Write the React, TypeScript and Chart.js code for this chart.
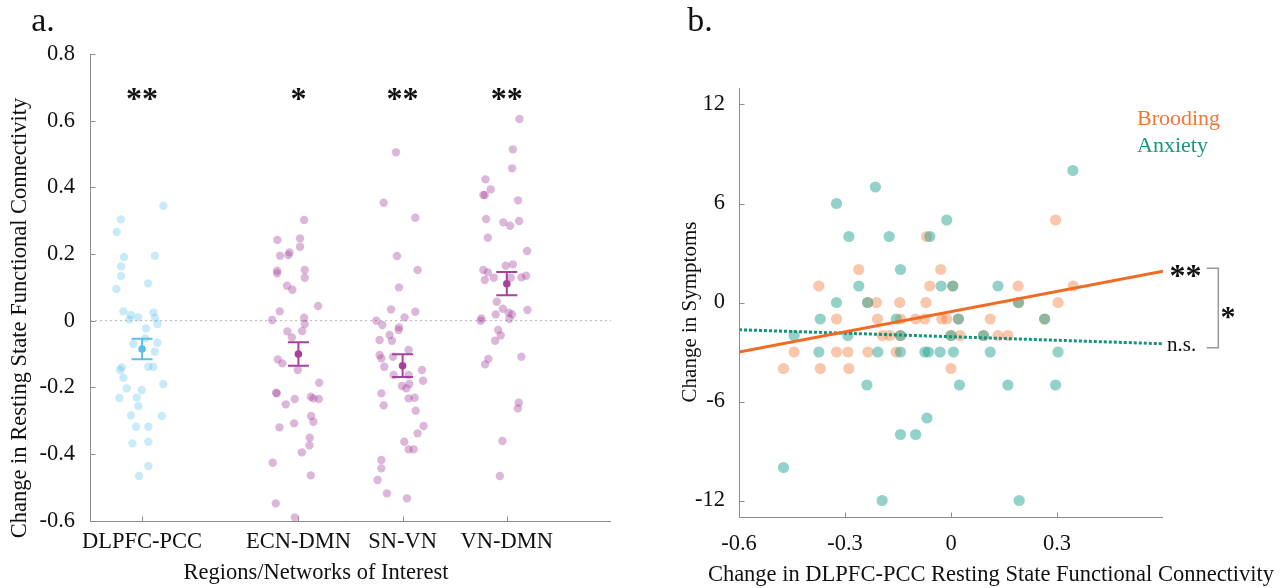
import React, { useEffect, useRef } from "react";
import { Chart, registerables } from "chart.js";

Chart.register(...registerables);

const FONT = '"Liberation Serif", "Times New Roman", serif';
const AXIS_COLOR = "#8c8c8c";
const TEXT_COLOR = "#111111";

// ---------------- Panel a data ----------------
const categories = ["DLPFC-PCC", "ECN-DMN", "SN-VN", "VN-DMN"];
const categoryPos = [1, 2.5, 3.5, 4.5];
const significance = ["**", "*", "**", "**"];
const aYTicks = [0.8, 0.6, 0.4, 0.2, 0, -0.2, -0.4, -0.6];
const aYLabels = ["0.8", "0.6", "0.4", "0.2", "0", "-0.2", "-0.4", "-0.6"];
const groupMeans = [-0.085, -0.1, -0.135, 0.111];
const groupSem = [0.031, 0.035, 0.034, 0.035];

const dlpfcPoints: [number, number][] = [
  [1.204, 0.345], [0.796, 0.304], [0.757, 0.266], [0.827, 0.191], [1.122, 0.195],
  [0.798, 0.163], [0.798, 0.134], [1.058, 0.112], [0.753, 0.095], [0.821, 0.028],
  [0.892, 0.017], [0.962, 0.01], [0.878, 0.004], [1.108, 0.025], [1.125, 0.009],
  [1.147, -0.01], [1.038, -0.023], [1.029, -0.053], [0.917, -0.07], [1.147, -0.066],
  [1.122, -0.093], [0.805, -0.14], [0.789, -0.148], [1.06, -0.138], [1.108, -0.138],
  [0.821, -0.171], [1.204, -0.19], [0.853, -0.203], [0.997, -0.208], [0.949, -0.23],
  [0.782, -0.232], [0.964, -0.256], [0.894, -0.284], [1.189, -0.286], [0.942, -0.318],
  [1.06, -0.318], [0.907, -0.368], [1.06, -0.363], [1.06, -0.436], [0.971, -0.466],
];

const ecnPoints: [number, number][] = [
  [2.555, 0.302], [2.298, 0.242], [2.516, 0.247], [2.516, 0.222], [2.324, 0.195],
  [2.414, 0.205], [2.404, 0.197], [2.296, 0.15], [2.296, 0.142], [2.561, 0.152],
  [2.561, 0.129], [2.392, 0.105], [2.442, 0.093], [2.689, 0.044], [2.321, 0.028],
  [2.248, 0.002], [2.555, 0.009], [2.561, -0.01], [2.536, -0.031], [2.394, -0.032],
  [2.437, -0.05], [2.302, -0.116], [2.346, -0.128], [2.494, -0.148], [2.699, -0.186],
  [2.286, -0.216], [2.293, -0.218], [2.619, -0.228], [2.644, -0.233], [2.696, -0.235],
  [2.465, -0.235], [2.379, -0.251], [2.622, -0.286], [2.644, -0.303], [2.459, -0.308],
  [2.318, -0.32], [2.609, -0.351], [2.606, -0.374], [2.533, -0.395], [2.254, -0.426],
  [2.619, -0.464], [2.283, -0.548], [2.465, -0.59],
];

const snPoints: [number, number][] = [
  [3.437, 0.505], [3.318, 0.354], [3.622, 0.309], [3.446, 0.194], [3.644, 0.152],
  [3.465, 0.1], [3.389, 0.034], [3.622, 0.027], [3.519, 0.01], [3.248, 0.0],
  [3.305, -0.013], [3.465, -0.02], [3.462, -0.028], [3.375, -0.043], [3.279, -0.058],
  [3.398, -0.06], [3.558, -0.088], [3.279, -0.103], [3.296, -0.113], [3.408, -0.108],
  [3.324, -0.138], [3.686, -0.148], [3.414, -0.163], [3.558, -0.163], [3.696, -0.18],
  [3.564, -0.19], [3.494, -0.196], [3.536, -0.203], [3.296, -0.218], [3.615, -0.231],
  [3.558, -0.233], [3.318, -0.254], [3.625, -0.27], [3.702, -0.316], [3.644, -0.338],
  [3.516, -0.363], [3.558, -0.386], [3.606, -0.386], [3.296, -0.418], [3.296, -0.443],
  [3.26, -0.478], [3.35, -0.518], [3.542, -0.533],
];

const vnPoints: [number, number][] = [
  [4.621, 0.605], [4.558, 0.514], [4.551, 0.457], [4.295, 0.424], [4.346, 0.394],
  [4.275, 0.377], [4.289, 0.377], [4.608, 0.361], [4.301, 0.305], [4.467, 0.295],
  [4.532, 0.285], [4.618, 0.299], [4.318, 0.249], [4.695, 0.209], [4.275, 0.152],
  [4.318, 0.145], [4.289, 0.122], [4.375, 0.129], [4.49, 0.165], [4.558, 0.169],
  [4.538, 0.129], [4.64, 0.13], [4.685, 0.135], [4.404, 0.057], [4.462, 0.036],
  [4.698, 0.032], [4.394, 0.019], [4.519, 0.024], [4.551, 0.019], [4.525, 0.006],
  [4.256, 0.007], [4.25, 0.0], [4.417, -0.028], [4.442, -0.044], [4.388, -0.06],
  [4.323, -0.115], [4.292, -0.131], [4.64, -0.108], [4.615, -0.246], [4.606, -0.263],
  [4.458, -0.361], [4.433, -0.466],
];

// ---------------- Panel b data ----------------
const bXTicks = [-0.6, -0.3, 0, 0.3];
const bXLabels = ["-0.6", "-0.3", "0", "0.3"];
const bYTicks = [12, 6, 0, -6, -12];
const bYLabels = ["12", "6", "0", "-6", "-12"];

const broodingPoints: [number, number][] = [
  [-0.069, 4], [-0.261, 2], [-0.029, 2], [-0.374, 1], [-0.06, 1], [0.005, 1],
  [0.19, 1], [0.346, 1], [0.296, 5], [-0.236, 0], [-0.211, 0], [-0.145, 0],
  [-0.071, 0], [0.191, 0], [0.303, 0], [-0.324, -1], [-0.208, -1], [-0.143, -1],
  [-0.1, -1], [-0.074, -1], [-0.026, -1], [-0.012, -1], [0.021, -1], [0.111, -1],
  [0.265, -1], [-0.194, -2], [-0.173, -2], [-0.143, -2], [0, -2], [0.026, -2],
  [0.092, -2], [0.133, -2], [0.161, -2], [-0.444, -3], [-0.324, -3], [-0.292, -3],
  [-0.235, -3], [-0.155, -3], [-0.474, -4], [-0.37, -4], [-0.289, -4], [0, -4],
];

const anxietyPoints: [number, number][] = [
  [-0.214, 7], [-0.324, 6], [-0.289, 4], [-0.175, 4], [-0.06, 4], [-0.012, 5],
  [0.345, 8], [-0.143, 2], [-0.261, 1], [-0.028, 1], [0.005, 1], [0.133, 1],
  [-0.324, 0], [-0.236, 0], [0.191, 0], [-0.37, -1], [-0.155, -1], [0.021, -1],
  [0.265, -1], [-0.444, -2], [-0.292, -2], [-0.143, -2], [0, -2], [0.092, -2],
  [-0.374, -3], [-0.207, -3], [-0.143, -3], [-0.074, -3], [-0.064, -3], [-0.031, -3],
  [0.007, -3], [0.111, -3], [0.303, -3], [-0.238, -5], [0.024, -5], [0.161, -5],
  [0.296, -5], [-0.068, -7], [-0.143, -8], [-0.1, -8], [-0.474, -10], [-0.195, -12],
  [0.193, -12],
];

const fitX = [-0.6, 0.6];
const broodingFit = [-3.0, 1.9];
const anxietyFit = [-1.65, -2.5];

// ---------------- helpers ----------------
const toXY = (pts: [number, number][]) => pts.map(([x, y]) => ({ x, y }));
const font = (size: number, weight = "normal") => `${weight} ${size}px ${FONT}`;

function drawAxesAndTicks(chart: any) {
  const { ctx, chartArea, scales } = chart;
  ctx.save();
  ctx.strokeStyle = AXIS_COLOR;
  ctx.lineWidth = 1;
  const L = Math.round(chartArea.left) + 0.5;
  const B = Math.round(chartArea.bottom) + 0.5;
  ctx.beginPath();
  ctx.moveTo(L, chartArea.top);
  ctx.lineTo(L, B);
  ctx.lineTo(chartArea.right, B);
  ctx.stroke();
  scales.x.ticks.forEach((t: any) => {
    const px = Math.round(scales.x.getPixelForValue(t.value)) + 0.5;
    ctx.beginPath();
    ctx.moveTo(px, B);
    ctx.lineTo(px, B - 5);
    ctx.stroke();
  });
  scales.y.ticks.forEach((t: any) => {
    const py = Math.round(scales.y.getPixelForValue(t.value)) + 0.5;
    ctx.beginPath();
    ctx.moveTo(L, py);
    ctx.lineTo(L + 5, py);
    ctx.stroke();
  });
  ctx.restore();
}

function text(ctx: any, s: string, x: number, y: number, f: string, color = TEXT_COLOR, align = "center", baseline = "middle", rot = 0) {
  ctx.save();
  ctx.font = f;
  ctx.fillStyle = color;
  ctx.textAlign = align;
  ctx.textBaseline = baseline;
  ctx.translate(x, y);
  if (rot) ctx.rotate(rot);
  ctx.fillText(s, 0, 0);
  ctx.restore();
}

const meanColors = ["#5bbeeb", "#a6419c", "#a6419c", "#a6419c"];

const panelAPlugin = {
  id: "panelA",
  afterDatasetsDraw(chart: any) {
    const { ctx, scales } = chart;
    ctx.save();
    categoryPos.forEach((pos, i) => {
      const px = scales.x.getPixelForValue(pos);
      const yHi = scales.y.getPixelForValue(groupMeans[i] + groupSem[i]);
      const yLo = scales.y.getPixelForValue(groupMeans[i] - groupSem[i]);
      ctx.strokeStyle = meanColors[i];
      ctx.lineWidth = 2;
      ctx.beginPath();
      ctx.moveTo(px, yHi);
      ctx.lineTo(px, yLo);
      ctx.moveTo(px - 10.5, yHi);
      ctx.lineTo(px + 10.5, yHi);
      ctx.moveTo(px - 10.5, yLo);
      ctx.lineTo(px + 10.5, yLo);
      ctx.stroke();
      const starSize = 32;
      text(ctx, significance[i], px, 95 + 0.45 * starSize, font(starSize, "bold"), TEXT_COLOR, "center", "alphabetic");
    });
    ctx.restore();
  },
  afterDraw(chart: any) {
    const { ctx } = chart;
    drawAxesAndTicks(chart);
    text(ctx, "a.", 43, 22, font(34));
    text(ctx, "Change in Resting State Functional Connectivity", 20, 318, font(22.5), TEXT_COLOR, "center", "middle", -Math.PI / 2);
    text(ctx, "Regions/Networks of Interest", 316, 573, font(22.5));
  },
};

const panelBPlugin = {
  id: "panelB",
  afterDraw(chart: any) {
    const { ctx } = chart;
    drawAxesAndTicks(chart);
    text(ctx, "b.", 60, 22, font(34));
    text(ctx, "Change in Symptoms", 50, 312, font(21), TEXT_COLOR, "center", "middle", -Math.PI / 2);
    text(ctx, "Change in DLPFC-PCC Resting State Functional Connectivity", 351, 575, font(22.5));
    text(ctx, "Brooding", 497, 119, font(22), "#f0773a", "left");
    text(ctx, "Anxiety", 497, 146, font(22), "#17977f", "left");
    text(ctx, "**", 545.5, 272 + 0.45 * 32, font(32, "bold"), TEXT_COLOR, "center", "alphabetic");
    text(ctx, "n.s.", 527, 345, font(21), TEXT_COLOR, "left");
    text(ctx, "*", 588, 312 + 0.45 * 30, font(30, "bold"), TEXT_COLOR, "center", "alphabetic");
    ctx.save();
    ctx.strokeStyle = "#999999";
    ctx.lineWidth = 1.5;
    ctx.beginPath();
    ctx.moveTo(566.7, 268.3);
    ctx.lineTo(578.3, 268.3);
    ctx.lineTo(578.3, 347.7);
    ctx.lineTo(566.7, 347.7);
    ctx.stroke();
    ctx.restore();
  },
};

const tickFont = { family: FONT, size: 22.5 };

export default function App() {
  const refA = useRef<HTMLCanvasElement>(null);
  const refB = useRef<HTMLCanvasElement>(null);

  useEffect(() => {
    const purple = "rgba(166,65,156,0.38)";
    const scatterBase = { borderWidth: 0, clip: false as any, pointHoverRadius: 0 };
    const chartA = new Chart(refA.current as HTMLCanvasElement, {
      type: "scatter",
      data: {
        datasets: [
          {
            data: categoryPos.map((x, i) => ({ x, y: groupMeans[i] })),
            backgroundColor: meanColors,
            pointRadius: 3.8,
            ...scatterBase,
          },
          { data: toXY(dlpfcPoints), backgroundColor: "rgba(91,190,235,0.33)", pointRadius: 4.2, ...scatterBase },
          { data: toXY(ecnPoints), backgroundColor: purple, pointRadius: 4.2, ...scatterBase },
          { data: toXY(snPoints), backgroundColor: purple, pointRadius: 4.2, ...scatterBase },
          { data: toXY(vnPoints), backgroundColor: purple, pointRadius: 4.2, ...scatterBase },
          {
            type: "line",
            data: [{ x: 0.5, y: 0 }, { x: 5.5, y: 0 }],
            borderColor: "#b3b3b3",
            borderWidth: 1,
            borderDash: [2, 3],
            pointRadius: 0,
          } as any,
        ],
      },
      options: {
        animation: false,
        responsive: false,
        devicePixelRatio: 1,
        events: [],
        layout: { padding: { left: 0, right: 29, top: 54, bottom: 0 }, autoPadding: false } as any,
        plugins: { legend: { display: false }, tooltip: { enabled: false } },
        scales: {
          x: {
            type: "linear",
            min: 0.5,
            max: 5.5,
            grid: { display: false, drawTicks: false },
            border: { display: false },
            afterBuildTicks: (s: any) => {
              s.ticks = categoryPos.map((v) => ({ value: v }));
            },
            afterFit: (s: any) => {
              s.height = 67.3;
            },
            ticks: {
              callback: (_v: any, i: number) => categories[i],
              font: tickFont,
              color: TEXT_COLOR,
              padding: 8,
              maxRotation: 0,
              autoSkip: false,
            },
          },
          y: {
            type: "linear",
            min: -0.6,
            max: 0.8,
            grid: { display: false, drawTicks: false },
            border: { display: false },
            afterBuildTicks: (s: any) => {
              s.ticks = aYTicks.map((v) => ({ value: v }));
            },
            afterFit: (s: any) => {
              s.width = 90;
            },
            ticks: {
              callback: (_v: any, i: number) => aYLabels[i],
              font: tickFont,
              color: TEXT_COLOR,
              padding: 15,
              autoSkip: false,
            },
          },
        },
      },
      plugins: [panelAPlugin],
    });

    const chartB = new Chart(refB.current as HTMLCanvasElement, {
      type: "scatter",
      data: {
        datasets: [
          {
            type: "line",
            data: fitX.map((x, i) => ({ x, y: broodingFit[i] })),
            borderColor: "#f26b24",
            borderWidth: 3,
            pointRadius: 0,
          } as any,
          {
            type: "line",
            data: fitX.map((x, i) => ({ x, y: anxietyFit[i] })),
            borderColor: "#13937d",
            borderWidth: 3,
            borderDash: [3, 2],
            pointRadius: 0,
          } as any,
          { data: toXY(anxietyPoints), backgroundColor: "rgba(38,166,145,0.5)", pointRadius: 5.6, ...scatterBase },
          { data: toXY(broodingPoints), backgroundColor: "rgba(242,130,70,0.45)", pointRadius: 5.6, ...scatterBase },
        ],
      },
      options: {
        animation: false,
        responsive: false,
        devicePixelRatio: 1,
        events: [],
        layout: { padding: { left: 0, right: 122, top: 88, bottom: 0 }, autoPadding: false } as any,
        plugins: { legend: { display: false }, tooltip: { enabled: false } },
        scales: {
          x: {
            type: "linear",
            min: -0.6,
            max: 0.6,
            grid: { display: false, drawTicks: false },
            border: { display: false },
            afterBuildTicks: (s: any) => {
              s.ticks = bXTicks.map((v) => ({ value: v }));
            },
            afterFit: (s: any) => {
              s.height = 71;
            },
            ticks: {
              callback: (_v: any, i: number) => bXLabels[i],
              font: tickFont,
              color: TEXT_COLOR,
              padding: 14,
              maxRotation: 0,
              autoSkip: false,
            },
          },
          y: {
            type: "linear",
            min: -13,
            max: 13,
            grid: { display: false, drawTicks: false },
            border: { display: false },
            afterBuildTicks: (s: any) => {
              s.ticks = bYTicks.map((v) => ({ value: v }));
            },
            afterFit: (s: any) => {
              s.width = 99;
            },
            ticks: {
              callback: (_v: any, i: number) => bYLabels[i],
              font: tickFont,
              color: TEXT_COLOR,
              padding: 14,
              autoSkip: false,
            },
          },
        },
      },
      plugins: [panelBPlugin],
    });

    return () => {
      chartA.destroy();
      chartB.destroy();
    };
  }, []);

  return (
    <div style={{ position: "absolute", left: 0, top: 0, width: 1285, height: 588, background: "#ffffff" }}>
      <canvas ref={refA} width={640} height={588} style={{ position: "absolute", left: 0, top: 0, width: 640, height: 588 }} />
      <canvas ref={refB} width={645} height={588} style={{ position: "absolute", left: 640, top: 0, width: 645, height: 588 }} />
    </div>
  );
}
